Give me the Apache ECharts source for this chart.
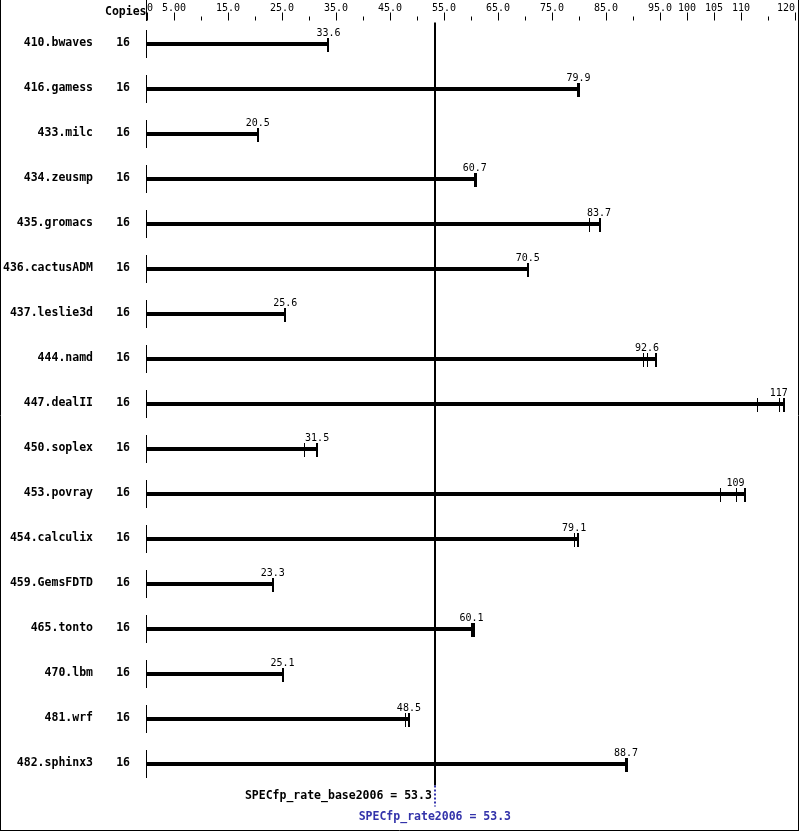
<!DOCTYPE html>
<html><head><meta charset="utf-8">
<script src="https://cdn.jsdelivr.net/npm/echarts@6/dist/echarts.min.js"></script>
<style>html,body{margin:0;padding:0;background:#fff}#c{width:799px;height:831px}</style>
</head><body><div id="c"></div>
<script>
const benchmarks = ['410.bwaves','416.gamess','433.milc','434.zeusmp','435.gromacs','436.cactusADM','437.leslie3d','444.namd','447.dealII','450.soplex','453.povray','454.calculix','459.GemsFDTD','465.tonto','470.lbm','481.wrf','482.sphinx3'];
const copies = [16,16,16,16,16,16,16,16,16,16,16,16,16,16,16,16,16];
const medians = [33.6,79.9,20.5,60.7,83.7,70.5,25.6,92.6,117,31.5,109,79.1,23.3,60.1,25.1,48.5,88.7];
const runs = [
  [33.6,33.6,33.6],
  [79.6,79.9,80.0],
  [20.5,20.5,20.5],
  [60.6,60.7,61.0],
  [81.9,83.7,83.9],
  [70.5,70.5,70.5],
  [25.6,25.6,25.6],
  [91.8,92.6,94.3],
  [113.0,117,118.0],
  [29.0,31.5,31.5],
  [106.2,109,110.8],
  [79.0,79.1,79.8],
  [23.3,23.3,23.3],
  [60.0,60.1,60.6],
  [25.1,25.1,25.1],
  [47.7,48.5,48.5],
  [88.5,88.7,88.9]
];
const majorTicks = [0,5,15,25,35,45,55,65,75,85,95,100,105,110,120];
const tickLabels = ['0','5.00','15.0','25.0','35.0','45.0','55.0','65.0','75.0','85.0','95.0','100','105','110','120'];
const minorTicks = [10,20,30,40,50,60,70,80,90,115];
const baseScore = 53.3;
const peakScore = 53.3;
const baseLabel = 'SPECfp_rate_base2006 = 53.3';
const peakLabel = 'SPECfp_rate2006 = 53.3';

const MONO = '"DejaVu Sans Mono", monospace';
const chart = echarts.init(document.getElementById('c'), null, {renderer: 'canvas'});

const fmtMed = v => v >= 100 ? v.toFixed(0) : v.toFixed(1);

const option = {
  animation: false,
  backgroundColor: '#fff',
  title: {
    text: 'Copies', left: 100, top: 1,
    textStyle: {fontFamily: MONO, fontWeight: 'bold', fontSize: 11.5, color: '#000'}
  },
  grid: {left: 147, right: 4, top: 20.5, height: 765},
  xAxis: [
    {
      type: 'value', position: 'top', min: 0, max: 120,
      splitLine: {show: false}, axisLine: {show: false},
      axisTick: {show: true, customValues: majorTicks, length: 8, lineStyle: {color: '#000', width: 1}},
      axisLabel: {
        customValues: majorTicks,
        formatter: v => tickLabels[majorTicks.indexOf(v)],
        margin: 7, fontFamily: MONO, fontSize: 10, color: '#000',
        alignMinLabel: 'left', alignMaxLabel: 'right'
      }
    },
    {
      type: 'value', position: 'top', min: 0, max: 120,
      splitLine: {show: false}, axisLine: {show: false},
      axisTick: {show: true, customValues: minorTicks, length: 4, lineStyle: {color: '#000', width: 1}},
      axisLabel: {show: false}
    }
  ],
  yAxis: [
    {
      type: 'category', data: benchmarks, inverse: true, position: 'left',
      axisLine: {show: false}, axisTick: {show: false}, splitLine: {show: false},
      axisLabel: {margin: 54, padding: [6, 0, 0, 0], fontFamily: MONO, fontWeight: 'bold', fontSize: 11.5, color: '#000'}
    },
    {
      type: 'category', data: benchmarks, inverse: true, position: 'left',
      axisLine: {show: false}, axisTick: {show: false}, splitLine: {show: false},
      axisLabel: {margin: 17, padding: [7, 0, 0, 0], formatter: (v, idx) => String(copies[idx]), fontFamily: MONO, fontWeight: 'bold', fontSize: 11.5, color: '#000'}
    }
  ],
  graphic: [
    {type: 'line', shape: {x1: 0.5, y1: 0, x2: 0.5, y2: 831}, style: {stroke: '#000', lineWidth: 1}},
    {type: 'line', shape: {x1: 798.5, y1: 0, x2: 798.5, y2: 831}, style: {stroke: '#000', lineWidth: 1}},
    {type: 'line', shape: {x1: 0, y1: 830.5, x2: 799, y2: 830.5}, style: {stroke: '#000', lineWidth: 1}},
    {type: 'line', shape: {x1: 146.5, y1: 0, x2: 146.5, y2: 21}, style: {stroke: '#000', lineWidth: 1}}
  ],
  series: [
    {
      type: 'custom', xAxisIndex: 0, yAxisIndex: 0, clip: false,
      data: medians.map((m, i) => [m, i]),
      renderItem: (params, api) => {
        const i = params.dataIndex;
        const med = api.value(0);
        const r = runs[i];
        const mx = Math.max.apply(null, r);
        const p0 = api.coord([0, i]);
        const pm = api.coord([med, i]);
        const pe = api.coord([mx, i]);
        const c = Math.round(p0[1]);
        const x0 = Math.round(p0[0]) - 1;
        const xe = Math.round(pe[0]);
        const children = [];
        children.push({type: 'rect', shape: {x: x0, y: c - 13, width: 1, height: 28}, style: {fill: '#000'}});
        children.push({type: 'rect', shape: {x: x0, y: c - 1, width: xe - x0 + 1, height: 4}, style: {fill: '#000'}});
        children.push({type: 'rect', shape: {x: xe - 1, y: c - 5, width: 2, height: 14}, style: {fill: '#000'}});
        r.forEach(v => {
          const px = Math.round(api.coord([v, i])[0]);
          children.push({type: 'rect', shape: {x: px, y: c - 5, width: 1, height: 14}, style: {fill: '#000'}});
        });
        children.push({
          type: 'text',
          style: {
            x: pm[0], y: c - 5, text: fmtMed(med), align: 'center', verticalAlign: 'bottom',
            font: '10px ' + MONO, fill: '#000'
          }
        });
        return {type: 'group', children: children};
      }
    },
    {
      type: 'custom', xAxisIndex: 0, yAxisIndex: 0, clip: false,
      data: [[baseScore, 0]],
      renderItem: (params, api) => {
        const cs = params.coordSys;
        const x = api.coord([api.value(0), 0])[0];
        const xp = api.coord([peakScore, 0])[0];
        const bottom = cs.y + cs.height;
        return {
          type: 'group',
          children: [
            {type: 'rect', shape: {x: Math.round(x) - 1, y: cs.y + 2, width: 2, height: bottom - cs.y - 2}, style: {fill: '#000'}},
            {type: 'line', shape: {x1: Math.round(xp), y1: bottom, x2: Math.round(xp), y2: bottom + 21},
             style: {stroke: '#3333aa', lineWidth: 2, lineDash: [2, 2]}},
            {type: 'text', style: {x: x - 3, y: bottom + 10.5, text: baseLabel, align: 'right', verticalAlign: 'middle',
             font: 'bold 11.5px ' + MONO, fill: '#000'}},
            {type: 'text', style: {x: xp, y: bottom + 32, text: peakLabel, align: 'center', verticalAlign: 'middle',
             font: 'bold 11.5px ' + MONO, fill: '#3333aa'}}
          ]
        };
      }
    }
  ]
};
chart.setOption(option);
</script>
</body></html>
